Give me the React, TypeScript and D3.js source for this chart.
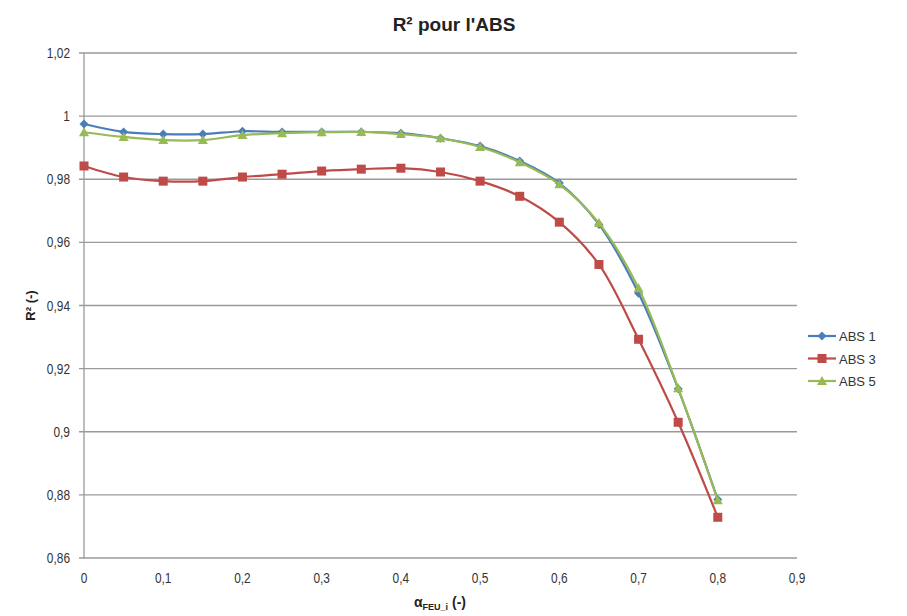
import React from "react";
import * as d3 from "d3";

const xValues = [0, 0.05, 0.1, 0.15, 0.2, 0.25, 0.3, 0.35, 0.4, 0.45, 0.5, 0.55, 0.6, 0.65, 0.7, 0.75, 0.8];
const abs1 = [0.9975, 0.995, 0.9943, 0.9943, 0.9952, 0.995, 0.995, 0.995, 0.9946, 0.993, 0.9905, 0.9858, 0.9788, 0.9657, 0.9439, 0.9136, 0.8785];
const abs3 = [0.9842, 0.9807, 0.9794, 0.9794, 0.9807, 0.9816, 0.9826, 0.9832, 0.9835, 0.9823, 0.9794, 0.9746, 0.9664, 0.953, 0.9293, 0.903, 0.8729];
const abs5 = [0.9949, 0.9934, 0.9924, 0.9924, 0.994, 0.9946, 0.9949, 0.995, 0.9943, 0.993, 0.9902, 0.9854, 0.9784, 0.9661, 0.9455, 0.9138, 0.8783];
const xTicks = [0, 0.1, 0.2, 0.3, 0.4, 0.5, 0.6, 0.7, 0.8, 0.9];
const yTicks = [0.86, 0.88, 0.9, 0.92, 0.94, 0.96, 0.98, 1, 1.02];
const seriesNames = ["ABS 1", "ABS 3", "ABS 5"];
const seriesColors = ["#4A7EBB", "#BE4B48", "#98B954"];
const seriesShapes = ["diamond", "square", "triangle"];

const W = 907, H = 616;
const left = 84, right = 797, top = 53, bottom = 558;

const fmt = (v: number) => {
  const s = d3.format("~g")(+v.toFixed(2));
  return s.replace(".", ",");
};

function Marker({ shape, x, y, color }: { shape: string; x: number; y: number; color: string }) {
  if (shape === "square") return <rect x={x - 4.5} y={y - 4.5} width={9} height={9} fill={color} />;
  if (shape === "diamond") return <path d={`M${x},${y - 4.5}L${x + 4.5},${y}L${x},${y + 4.5}L${x - 4.5},${y}Z`} fill={color} />;
  return <path d={`M${x},${y - 5}L${x + 5},${y + 4}L${x - 5},${y + 4}Z`} fill={color} />;
}

export default function App() {
  const x = d3.scaleLinear().domain([0, 0.9]).range([left, right]);
  const y = d3.scaleLinear().domain([0.86, 1.02]).range([bottom, top]);
  const series = [abs1, abs3, abs5];
  const line = d3.line<number>().x((_, i) => x(xValues[i])).y((d) => y(d)).curve(d3.curveCatmullRom.alpha(0.5));
  const font = "'Liberation Sans', Arial, sans-serif";
  const drawOrder = [0, 1, 2];
  return (
    <svg width={W} height={H} style={{ position: "absolute", left: 0, top: 0, background: "#fff" }}>
      <rect width={W} height={H} fill="#fff" />
      <text x={454} y={31} textAnchor="middle" fontFamily={font} fontWeight="bold" fontSize={19} fill="#222">
        R² pour l'ABS
      </text>
      {yTicks.map((t) => (
        <g key={t}>
          <line x1={left - 5} x2={right} y1={y(t)} y2={y(t)} stroke="#9a9a9a" strokeWidth={1.3} />
          <text transform={`translate(70,${y(t) + 5}) scale(0.85,1)`} textAnchor="end" fontFamily={font} fontSize={14} fill="#333">
            {fmt(t)}
          </text>
        </g>
      ))}
      <line x1={left} x2={left} y1={top} y2={bottom} stroke="#9a9a9a" strokeWidth={1.3} />
      {xTicks.map((t) => (
        <text key={t} transform={`translate(${x(t)},583) scale(0.85,1)`} textAnchor="middle" fontFamily={font} fontSize={14} fill="#333">
          {fmt(t)}
        </text>
      ))}
      <text transform={`translate(35,${(top + bottom) / 2}) rotate(-90)`} textAnchor="middle" fontFamily={font} fontWeight="bold" fontSize={13} fill="#222">
        R² (-)
      </text>
      <text x={440} y={607} textAnchor="middle" fontFamily={font} fontWeight="bold" fontSize={14} fill="#222">
        α<tspan fontSize={9} dy={3}>FEU_i</tspan><tspan dy={-3} fontSize={14}> (-)</tspan>
      </text>
      {drawOrder.map((si) => (
        <g key={si}>
          <path d={line(series[si]) || ""} fill="none" stroke={seriesColors[si]} strokeWidth={2.2} />
          {series[si].map((v, i) => (
            <Marker key={i} shape={seriesShapes[si]} x={x(xValues[i])} y={y(v)} color={seriesColors[si]} />
          ))}
        </g>
      ))}
      {seriesNames.map((n, i) => (
        <g key={n} transform={`translate(808,${336 + i * 22.5})`}>
          <line x1={0} x2={28} y1={0} y2={0} stroke={seriesColors[i]} strokeWidth={2.2} />
          <Marker shape={seriesShapes[i]} x={14} y={0} color={seriesColors[i]} />
          <text x={31} y={5} fontFamily={font} fontSize={13} fill="#333">{n}</text>
        </g>
      ))}
    </svg>
  );
}
